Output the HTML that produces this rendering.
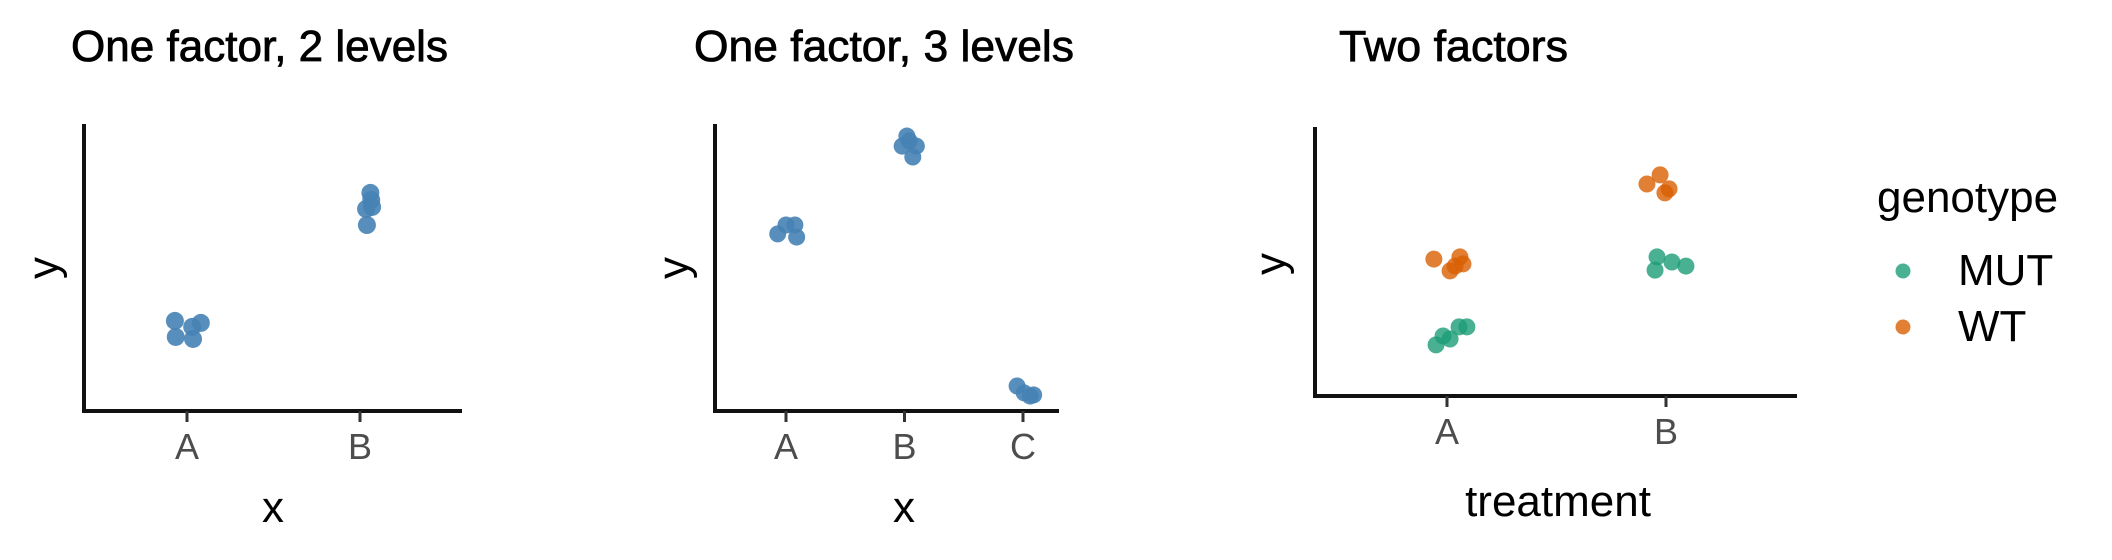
<!DOCTYPE html>
<html><head><meta charset="utf-8"><style>
html,body{margin:0;padding:0;background:#fff;}
svg{display:block;font-family:"Liberation Sans",sans-serif;}
.title{font-family:"Liberation Sans Narrow","Liberation Sans",sans-serif;font-size:44px;fill:#000;stroke:#000;stroke-width:0.8;}
.tick{font-size:36px;fill:#4d4d4d;}
.axt{font-size:44px;fill:#000;}
</style></head><body>
<svg id="chart" width="2112" height="560" viewBox="0 0 2112 560"></svg>
<script>
// Panel 1 data
const p1Cats = ['A','B'];
const p1Cat = ['A','A','A','A','A','B','B','B','B','B'];
const p1Jit = [-0.07,-0.065,0.03,0.035,0.08,0.06,0.035,0.07,0.04,0.065];
const p1Val = [3.14,2.58,2.93,2.51,3.07,7.6,7.04,7.11,6.48,7.35];
// Panel 2 data
const p2Cats = ['A','B','C'];
const p2Cat = ['A','A','A','A','B','B','B','B','B','C','C','C','C'];
const p2Jit = [-0.07,0,0.075,0.09,0.02,0.04,0.1,0.07,-0.02,-0.05,0.01,0.06,0.09];
const p2Val = [6.17,6.48,6.48,6.06,9.58,9.41,9.23,8.85,9.23,0.87,0.63,0.52,0.56];
// Panel 3 data
const p3Cats = ['A','B'];
const p3Groups = ['MUT','WT'];
const p3Cat = ['A','A','A','A','A','A','A','A','A','A','B','B','B','B','B','B','B','B'];
const p3Grp = ['WT','WT','WT','WT','WT','MUT','MUT','MUT','MUT','MUT','WT','WT','WT','WT','MUT','MUT','MUT','MUT'];
const p3Jit = [-0.06,0.014,0.037,0.059,0.073,-0.05,-0.018,0.014,0.055,0.091,-0.087,-0.027,-0.005,0.014,-0.05,-0.041,0.027,0.091];
const p3Val = [5.09,4.65,4.83,5.17,4.91,1.9,2.23,2.12,2.57,2.57,7.88,8.22,7.55,7.7,4.68,5.17,4.98,4.83];
const colors = {MUT:'rgba(27,158,119,0.8)', WT:'rgba(217,95,2,0.8)'};

const NS='http://www.w3.org/2000/svg';
const svg=document.getElementById('chart');
function mk(tag,attrs,parent,text){const e=document.createElementNS(NS,tag);for(const k in attrs)e.setAttribute(k,attrs[k]);if(text!==undefined)e.textContent=text;(parent||svg).appendChild(e);return e;}

function panel(cfg){
  const g=mk('g',{});
  
  
  const t=mk('text',{x:cfg.titleX,y:61,class:'title',textLength:cfg.titleW,lengthAdjust:'spacingAndGlyphs'},g,cfg.title);
  
  
  const xS=c=>cfg.x0+cfg.cats.indexOf(c)*cfg.step;
  const yS=v=>cfg.yB-(v/10)*(cfg.yB-cfg.yT0);
  const ay=mk('line',{x1:cfg.axX,y1:cfg.yTop,x2:cfg.axX,y2:cfg.yB+2,stroke:'#111','stroke-width':4},g);
  
  
  const ax=mk('line',{x1:cfg.axX-2,y1:cfg.yB,x2:cfg.axR,y2:cfg.yB,stroke:'#111','stroke-width':4},g);
  
  
  cfg.cats.forEach(c=>{
    const tk=mk('line',{x1:xS(c),y1:cfg.yB,x2:xS(c),y2:cfg.yB+11,stroke:'#333','stroke-width':3},g);
    
    
    const tl=mk('text',{x:xS(c),y:cfg.yB+48,class:'tick','text-anchor':'middle'},g,c);
    
    
  });
  const xt=mk('text',{x:cfg.xtX,y:cfg.xtY,class:'axt','text-anchor':'middle','font-size':cfg.xtSize||44},g,cfg.xTitle);
  
  
  const yt=mk('text',{x:0,y:0,class:'axt','text-anchor':'middle',transform:`translate(${cfg.ytX},${cfg.ytY}) rotate(-90)`},g,'y');
  
  
  cfg.cat.forEach((c,i)=>{
    const col=cfg.grp?colors[cfg.grp[i]]:'rgba(70,130,180,0.9)';
    const p=mk('circle',{cx:xS(c)+cfg.jit[i]*cfg.step,cy:yS(cfg.val[i]),r:cfg.r,fill:col},g);
    
    
  });
}
panel({name:'panel-one-factor-2-levels',title:'One factor, 2 levels',titleX:71,titleW:377,cats:p1Cats,cat:p1Cat,jit:p1Jit,val:p1Val,r:9,
  x0:187,step:173,axX:84,axR:462,yTop:124,yB:411,yT0:124,xTitle:'x',xtX:273,xtY:522,ytX:58,ytY:268});
panel({name:'panel-one-factor-3-levels',title:'One factor, 3 levels',titleX:694,titleW:380,cats:p2Cats,cat:p2Cat,jit:p2Jit,val:p2Val,r:8.5,
  x0:786,step:118.5,axX:715,axR:1059,yTop:124,yB:411,yT0:124,xTitle:'x',xtX:904,xtY:522,ytX:688,ytY:268});
panel({name:'panel-two-factors',title:'Two factors',titleX:1339,titleW:229,cats:p3Cats,cat:p3Cat,grp:p3Grp,jit:p3Jit,val:p3Val,r:8.5,
  x0:1447,step:219,axX:1315,axR:1797,yTop:127,yB:396,yT0:127,xTitle:'treatment',xtSize:50,xtX:1558,xtY:516,ytX:1285,ytY:264});

const lg=mk('g',{});


const lt=mk('text',{x:1877,y:212,class:'axt','font-size':48},lg,'genotype');


p3Groups.forEach((gname,i)=>{
  const y=271+i*56;
  const d=mk('circle',{cx:1903,cy:y,r:7.5,fill:colors[gname]},lg);
  
  
  const t=mk('text',{x:1958,y:y+14,class:'axt','font-size':40},lg,gname);
  
  
});
</script>
</body></html>
